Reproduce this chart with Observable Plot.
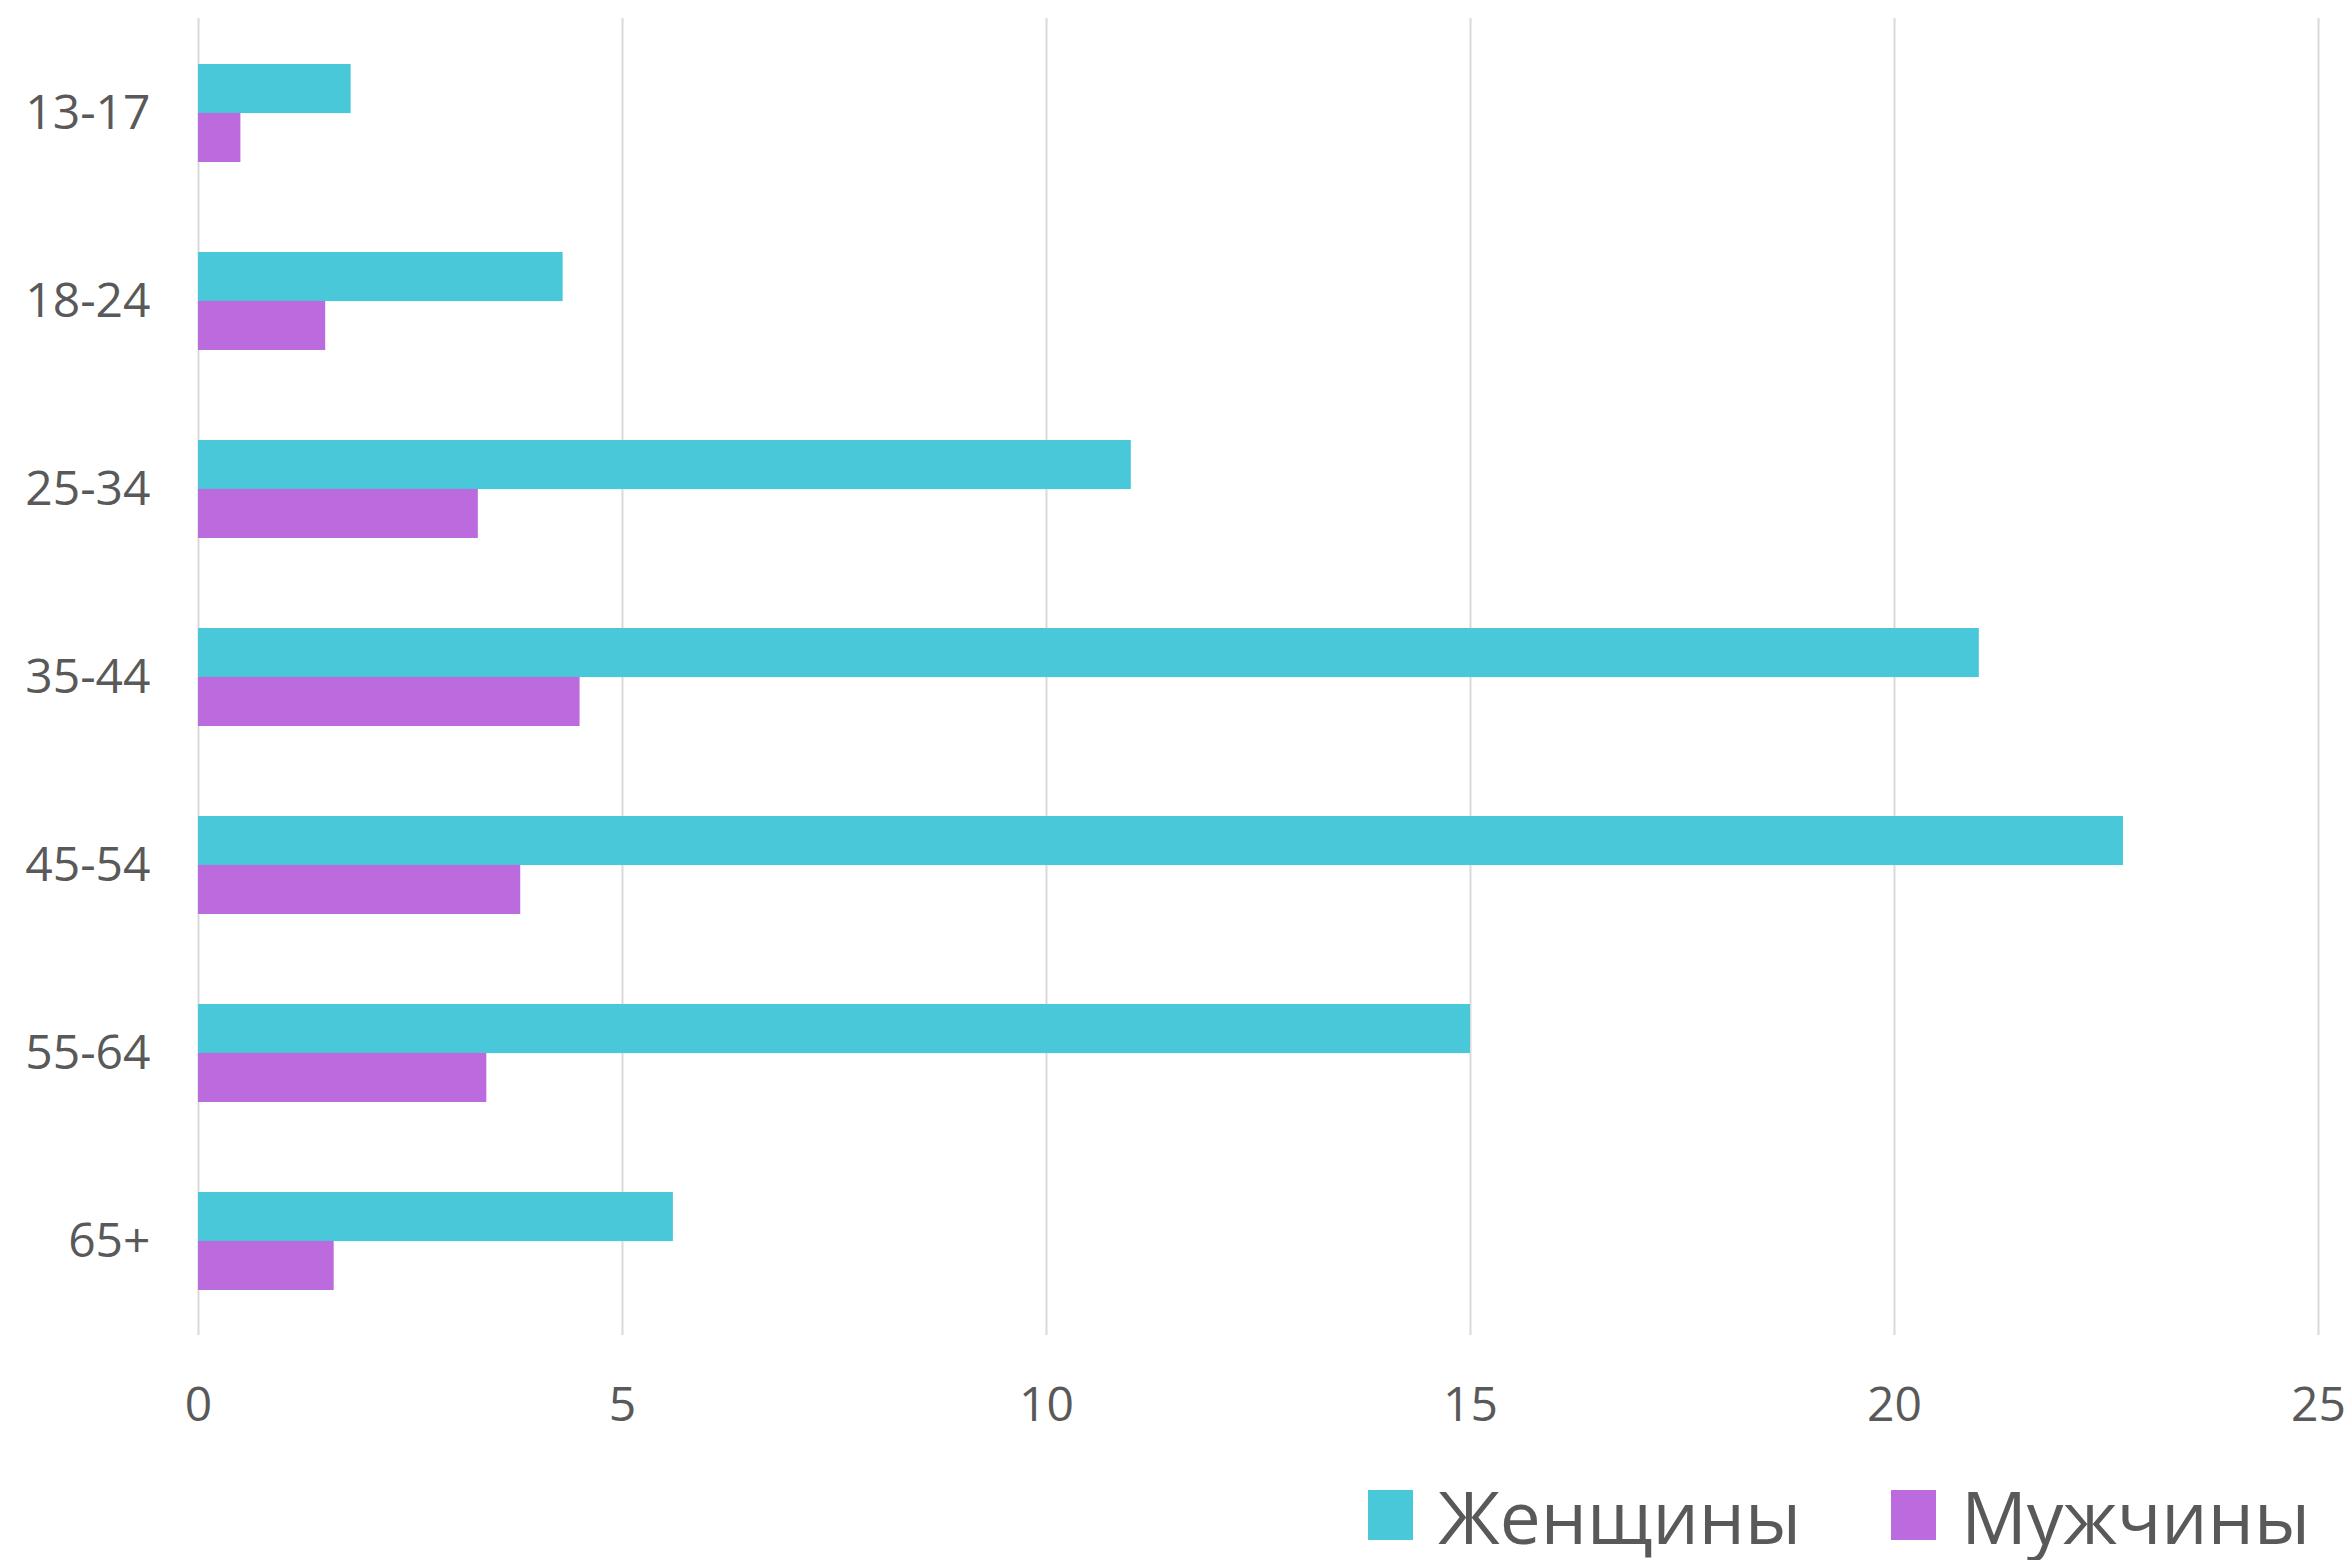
<!DOCTYPE html>
<html>
<head>
<meta charset="utf-8">
<script src="https://cdn.jsdelivr.net/npm/d3@7"></script>
<script src="https://cdn.jsdelivr.net/npm/@observablehq/plot@0.6"></script>
<style>
  html, body { margin: 0; padding: 0; background: #fff; overflow: hidden; }
  #chart svg { display: block; }
  #legend {
    display: flex; justify-content: flex-end; align-items: center;
    height: 90px; margin-top: 8px; padding-right: 42px;
    font-family: "Open Sans", sans-serif; font-size: 73px; color: #595959; line-height: 1;
  }
  .item { display: flex; align-items: center; margin-left: 90px; }
  .sw { width: 45px; height: 50px; margin-right: 25px; }
</style>
</head>
<body>
<div id="chart"></div>
<div id="legend"></div>
<script>
const ages = ["13-17", "18-24", "25-34", "35-44", "45-54", "55-64", "65+"];
const women = [1.8, 4.3, 11.0, 21.0, 22.7, 15.0, 5.6];
const men = [0.5, 1.5, 3.3, 4.5, 3.8, 3.4, 1.6];
const xTicks = [0, 5, 10, 15, 20, 25];
const seriesNames = ["Женщины", "Мужчины"];
const colors = ["#48C8D8", "#BB6BDD"];

const rows = ages.map((a, i) => ({age: a, women: women[i], men: men[i]}));

const W = 2352, H = 1462;
const mTop = 18, mBottom = 127, mLeft = 198, mRight = 34;
const pInner = 0.48, pOuter = 0.24;
const step = (H - mTop - mBottom) / (ages.length - pInner + 2 * pOuter);
const half = step * (1 - pInner) / 2;

const chart = Plot.plot({
  width: W, height: H,
  marginTop: mTop, marginBottom: mBottom, marginLeft: mLeft, marginRight: mRight,
  style: {fontFamily: "Open Sans, sans-serif", color: "#595959", background: "#fff"},
  x: {domain: [0, 25]},
  y: {domain: ages, paddingInner: pInner, paddingOuter: pOuter},
  marks: [
    Plot.gridX(xTicks, {stroke: "#d9d9d9", strokeOpacity: 1, strokeWidth: 2}),
    Plot.barX(rows, {y: "age", x: "women", fill: colors[0], insetBottom: half}),
    Plot.barX(rows, {y: "age", x: "men", fill: colors[1], insetTop: half}),
    Plot.axisX({ticks: xTicks, tickSize: 0, tickPadding: 51, fontSize: 48, label: null}),
    Plot.axisY({tickSize: 0, tickPadding: 48, fontSize: 48, label: null})
  ]
});
document.getElementById("chart").appendChild(chart);

const legend = document.getElementById("legend");
seriesNames.forEach((n, i) => {
  const it = document.createElement("div");
  it.className = "item";
  const sw = document.createElement("div");
  sw.className = "sw";
  sw.style.background = colors[i];
  const t = document.createElement("span");
  t.textContent = n;
  it.appendChild(sw); it.appendChild(t);
  legend.appendChild(it);
});
</script>
</body>
</html>
